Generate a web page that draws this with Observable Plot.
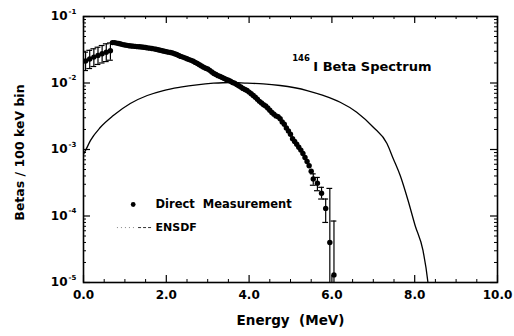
<!DOCTYPE html>
<html><head><meta charset="utf-8">
<script src="https://cdn.jsdelivr.net/npm/d3@7"></script>
<script src="https://cdn.jsdelivr.net/npm/@observablehq/plot@0.6"></script>
<style>
body{margin:0;background:#fff;}
</style></head><body><div id="chart"></div>
<script>
// Direct measurement: energies (MeV) and betas per 100 keV bin
const energy = [0.05,0.15,0.25,0.35,0.45,0.55,0.65,
  0.70,0.75,0.80,0.85,0.90,0.95,1.00,1.05,1.10,1.15,1.20,1.25,1.30,1.35,1.40,1.45,1.50,1.55,1.60,1.65,1.70,1.75,1.80,1.85,1.90,1.95,
  2.00,2.05,2.10,2.15,2.20,2.25,2.30,2.35,2.40,2.45,2.50,2.55,2.60,2.65,2.70,2.75,2.80,2.85,2.90,2.95,
  3.00,3.05,3.10,3.15,3.20,3.25,3.30,3.35,3.40,3.45,3.50,3.55,3.60,3.65,3.70,3.75,3.80,3.85,3.90,3.95,
  4.00,4.05,4.10,4.15,4.20,4.25,4.30,4.35,4.40,4.45,4.50,4.55,4.60,4.65,4.70,4.75,4.80,4.85,4.90,4.95,
  5.00,5.05,5.10,5.15,5.20,5.25,5.30,5.35,5.40,5.45,5.50,5.55,5.65,5.75,5.85,5.95,6.05];
const betas = [0.0215,0.023,0.0245,0.026,0.0275,0.029,0.0305,
  0.0405,0.0405,0.0398,0.0392,0.0385,0.0378,0.0372,0.0368,0.0364,0.0360,0.0358,0.0355,0.0352,0.0350,0.0347,0.0344,0.0341,0.0337,0.0334,0.0330,0.0326,0.0321,0.0316,0.0311,0.0306,0.0301,
  0.0296,0.0291,0.0287,0.0282,0.0275,0.0268,0.0259,0.0251,0.0245,0.0239,0.0232,0.0225,0.0219,0.0212,0.0204,0.0196,0.0188,0.0180,0.0173,0.0167,
  0.0162,0.0155,0.0146,0.0139,0.0134,0.0129,0.0125,0.0121,0.0117,0.0113,0.0110,0.0106,0.0102,0.0099,0.0095,0.0091,0.0087,0.0083,0.0080,0.0077,
  0.0073,0.0069,0.0065,0.0061,0.0057,0.0053,0.0050,0.0047,0.0045,0.0042,0.0039,0.0036,0.0034,0.0032,0.0031,0.0029,0.0026,0.0024,0.0021,0.0019,
  0.0017,0.00145,0.00132,0.00120,0.00108,0.00098,0.00087,0.00076,0.00066,0.00057,0.00047,0.00036,0.00031,0.00022,0.00013,0.00004,0.000013];

// Visible error bars
const errEnergy = [0.05,0.15,0.25,0.35,0.45,0.55,0.65,5.55,5.65,5.75,5.85,5.95,6.05];
const errLow = [0.0154,0.0165,0.0177,0.0190,0.0200,0.0210,0.0220,0.00029,0.00024,0.00018,0.00008,0.000001,0.000001];
const errHigh = [0.0291,0.0310,0.0327,0.0345,0.0366,0.0388,0.0400,0.00043,0.00038,0.00027,0.00018,0.00026,0.000084];

// ENSDF spectrum
const ensdfEnergy = [0.0,0.05,0.17,0.41,0.72,1.13,1.54,1.93,2.34,2.74,3.14,3.55,3.95,4.34,4.75,5.40,5.79,6.20,6.60,7.00,7.33,7.48,7.65,7.84,8.01,8.20,8.32,8.38];
const ensdfBetas = [0.00085,0.00097,0.00137,0.00216,0.00324,0.00492,0.00649,0.00771,0.00865,0.00940,0.00993,0.01018,0.00993,0.00972,0.00917,0.00771,0.00649,0.00514,0.00364,0.00216,0.00123,0.000733,0.000406,0.000171,0.000072,0.0000303,0.00001,0.000004];

// Axis ticks and labels
const xMajor = [0, 2, 4, 6, 8, 10];
const xLabels = ["0.0", "2.0", "4.0", "6.0", "8.0", "10.0"];
const xMinor = [0.5,1,1.5,2.5,3,3.5,4.5,5,5.5,6.5,7,7.5,8.5,9,9.5];
const yMajor = [1e-5, 1e-4, 1e-3, 1e-2, 1e-1];
const yExponents = ["-5", "-4", "-3", "-2", "-1"];
const yMinor = [];
for (const d of yMajor.slice(0, -1)) for (let k = 2; k <= 9; k++) yMinor.push(d * k);

const measured = energy.map((e, i) => ({e, v: betas[i]}));
const errors = errEnergy.map((e, i) => ({e, lo: errLow[i], hi: errHigh[i]}));
const ensdf = ensdfEnergy.map((e, i) => ({e, v: ensdfBetas[i]}));
const capHalf = 0.07;

const font = '"DejaVu Sans", sans-serif';
const PH = 336 - 16 - 54, PW = 514 - 83 - 17;

const chart = Plot.plot({
  width: 514, height: 336,
  marginLeft: 83, marginRight: 17, marginTop: 16, marginBottom: 54,
  style: {fontFamily: font, background: "#fff", color: "#000", overflow: "visible"},
  x: {domain: [0, 10], axis: null},
  y: {type: "log", domain: [1e-5, 1e-1], axis: null},
  marks: [
    Plot.tickX(xMajor, {x: d => d, insetTop: PH - 7, stroke: "#000", strokeWidth: 1.2}),
    Plot.tickX(xMajor, {x: d => d, insetBottom: PH - 7, stroke: "#000", strokeWidth: 1.2}),
    Plot.tickX(xMinor, {x: d => d, insetTop: PH - 3, stroke: "#000", strokeWidth: 1}),
    Plot.tickX(xMinor, {x: d => d, insetBottom: PH - 3, stroke: "#000", strokeWidth: 1}),
    Plot.tickY(yMajor, {y: d => d, insetRight: PW - 7, stroke: "#000", strokeWidth: 1.2}),
    Plot.tickY(yMajor, {y: d => d, insetLeft: PW - 7, stroke: "#000", strokeWidth: 1.2}),
    Plot.tickY(yMinor, {y: d => d, insetRight: PW - 3, stroke: "#000", strokeWidth: 1}),
    Plot.tickY(yMinor, {y: d => d, insetLeft: PW - 3, stroke: "#000", strokeWidth: 1}),
    Plot.frame({stroke: "#000", strokeWidth: 1.6}),
    Plot.text(xMajor, {x: d => d, text: (d, i) => xLabels[i], frameAnchor: "bottom", dy: 16, fontSize: 12, fontWeight: "bold", fill: "#000"}),
    Plot.text(yMajor, {y: d => d, text: () => "10", frameAnchor: "left", dx: -16, textAnchor: "end", fontSize: 12, fontWeight: "bold", fill: "#000"}),
    Plot.text(yMajor, {y: d => d, text: (d, i) => yExponents[i], frameAnchor: "left", dx: -15, dy: -5, textAnchor: "start", fontSize: 7, fontWeight: "bold", fill: "#000"}),
    Plot.text(["Energy  (MeV)"], {text: d => d, frameAnchor: "bottom", dy: 42, textAnchor: "middle", fontSize: 13.5, fontWeight: "bold", fill: "#000"}),
    Plot.text(["Betas / 100 keV bin"], {text: d => d, y: () => 9e-4, frameAnchor: "left", dx: -64, rotate: -90, textAnchor: "middle", fontSize: 12.5, fontWeight: "bold", fill: "#000"}),
    Plot.line(ensdf, {x: "e", y: "v", curve: "monotone-x", stroke: "#000", strokeWidth: 1.3, clip: true}),
    Plot.ruleX(errors, {x: "e", y1: "lo", y2: "hi", stroke: "#000", strokeWidth: 1.2, clip: true}),
    Plot.ruleY(errors, {y: "hi", x1: d => d.e - capHalf, x2: d => d.e + capHalf, stroke: "#000", strokeWidth: 1.2, clip: true}),
    Plot.ruleY(errors.filter(d => d.lo > 1e-5), {y: "lo", x1: d => d.e - capHalf, x2: d => d.e + capHalf, stroke: "#000", strokeWidth: 1.2, clip: true}),
    Plot.dot(measured, {x: "e", y: "v", r: 2.7, fill: "#000", stroke: "none", clip: true}),
    Plot.text(["146"], {x: 5.47, y: 0.0236, text: d => d, textAnchor: "end", fontSize: 8.5, fontWeight: "bold", fill: "#000"}),
    Plot.text(["I Beta Spectrum"], {x: 5.55, y: 0.0173, text: d => d, textAnchor: "start", fontSize: 13, fontWeight: "bold", fill: "#000"}),
    Plot.dot([0], {x: 1.2, y: 1.49e-4, r: 2.4, fill: "#000", stroke: "none"}),
    Plot.text(["Direct  Measurement"], {x: 1.74, y: 1.49e-4, text: d => d, textAnchor: "start", fontSize: 11.5, fontWeight: "bold", fill: "#000"}),
    Plot.ruleY([6.7e-5], {x1: 0.82, x2: 1.28, y: d => d, stroke: "#888", strokeWidth: 1, strokeDasharray: "1,3"}),
    Plot.ruleY([6.7e-5], {x1: 1.33, x2: 1.68, y: d => d, stroke: "#333", strokeWidth: 1, strokeDasharray: "3,2"}),
    Plot.text(["ENSDF"], {x: 1.74, y: 6.7e-5, text: d => d, textAnchor: "start", fontSize: 11, fontWeight: "bold", fill: "#000", letterSpacing: -1})
  ]
});
document.getElementById("chart").appendChild(chart);
</script></body></html>
